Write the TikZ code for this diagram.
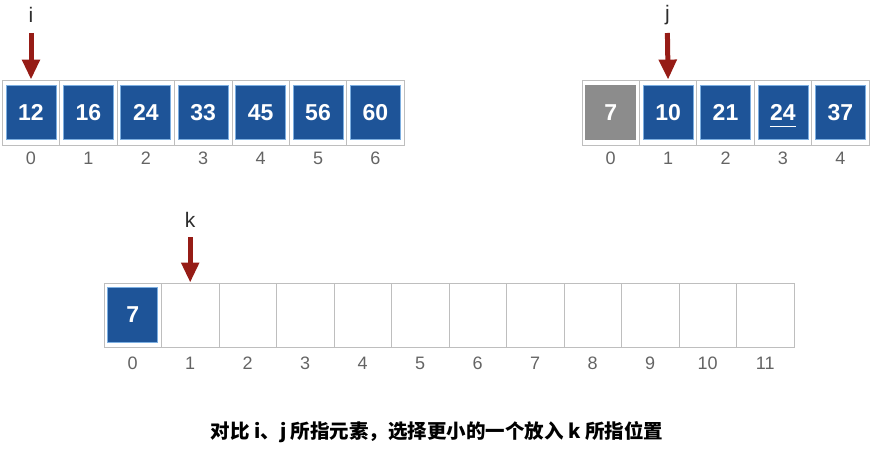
\documentclass[tikz,border=0pt]{standalone}
\usepackage{fontspec}
\setmainfont{Liberation Sans}
\newfontfamily\cjkfont{Noto Sans CJK SC}
\usetikzlibrary{arrows.meta}

\definecolor{valblue}{RGB}{30,84,152}
\definecolor{edgeblue}{RGB}{125,175,225}
\definecolor{oldgray}{RGB}{140,140,140}
\definecolor{cellgray}{RGB}{190,190,190}
\definecolor{ptrred}{RGB}{150,28,22}
\definecolor{idxgray}{RGB}{100,100,100}
\definecolor{ptrtext}{RGB}{45,45,45}

\begin{document}
\begin{tikzpicture}[x=1pt, y=-1pt,
		cell/.style={draw=cellgray, line width=0.8pt, minimum width=57.4pt, minimum height=65pt, inner sep=0pt},
		val/.style={fill=valblue, draw=edgeblue, line width=0.8pt, text=white, minimum width=50pt, minimum height=54pt, inner sep=0pt, font=\bfseries\fontsize{23}{23}\selectfont},
		oldval/.style={val, fill=oldgray, draw=oldgray},
		idx/.style={text=idxgray, font=\fontsize{18}{18}\selectfont},
		ptr/.style={text=ptrtext, font=\fontsize{21}{21}\selectfont},
		ptrarrow/.style={draw=ptrred, line width=5pt, -{Triangle[width=17pt,length=20pt]}}]
		\useasboundingbox (0,0) rectangle (874,449);

		% Left array, pointer i
		\foreach \v [count=\n from 0] in {12,16,24,33,45,56,60} {
			\node[cell] (a\n) at (31+57.4*\n,112.5) {};
			\node[val] (va\n) at (a\n) {\v};
			\node[idx] (ia\n) at (31+57.4*\n,158) {\n};
		}
		\node[ptr] (li) at (31,15) {i};
		\coordinate (ti) at (31,33);
		\draw[ptrarrow] (ti) -- (a0.north);

		% Right array, pointer j
		\foreach \v/\s [count=\n from 0] in {7/oldval,10/val,21/val,24/val,37/val} {
			\node[cell] (b\n) at (610.7+57.4*\n,112.5) {};
			\node[\s] (vb\n) at (b\n) {\v};
			\node[idx] (ib\n) at (610.7+57.4*\n,158) {\n};
		}
		\draw[white, line width=1.6pt] ([shift={(-13,14)}]vb3.center) -- ([shift={(13,14)}]vb3.center);
		\node[ptr] (lj) at (667.4,15) {j};
		\coordinate (tj) at (667.4,33);
		\draw[ptrarrow] (tj) -- (b1.north);

		% Merged array, pointer k
		\foreach \n in {0,...,11} {
			\node[cell, minimum height=64pt] (c\n) at (132.7+57.5*\n,315) {};
			\node[idx] (ic\n) at (132.7+57.5*\n,363) {\n};
		}
		\node[val, minimum height=55pt] (vc0) at (c0) {7};
		\node[ptr] (lk) at (190.2,220) {k};
		\coordinate (tk) at (190.2,237);
		\draw[ptrarrow] (tk) -- (c1.north);

		\node[font=\cjkfont\bfseries\fontsize{19.5}{19.5}\selectfont] (cap) at (437,432) {对比 i、j 所指元素，选择更小的一个放入 k 所指位置};
	\end{tikzpicture}
\end{document}
